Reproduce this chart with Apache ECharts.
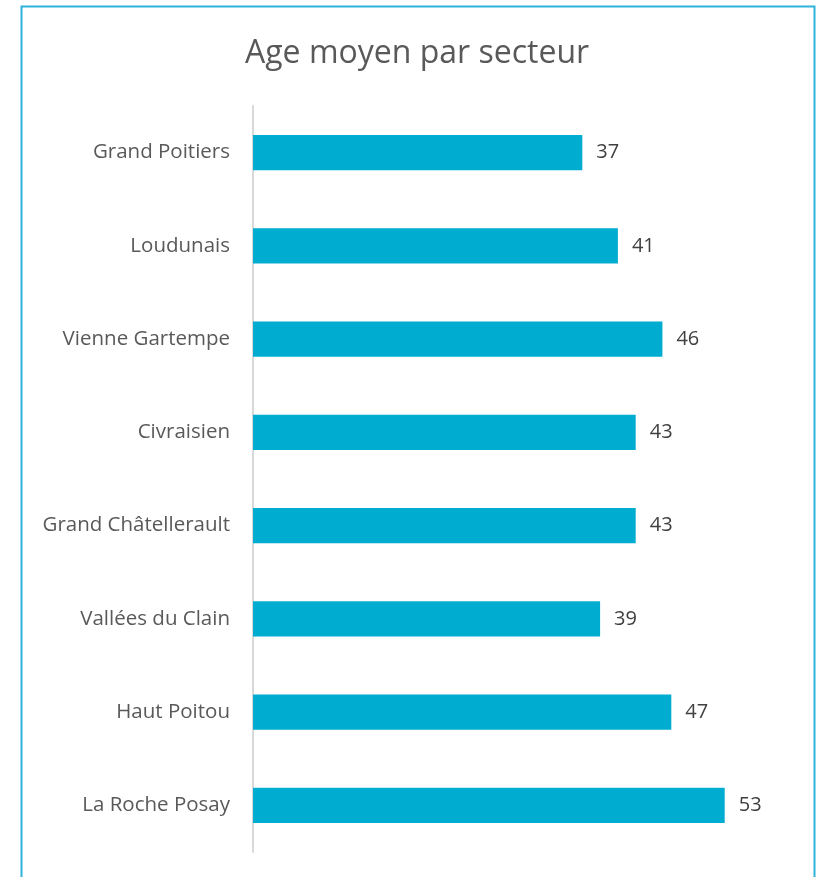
<!DOCTYPE html>
<html>
<head>
<meta charset="utf-8">
<script src="https://cdn.jsdelivr.net/npm/echarts@6/dist/echarts.min.js"></script>
<style>
html,body{margin:0;padding:0;background:#fff;}
#chart{width:824px;height:877px;}
</style>
</head>
<body>
<div id="chart"></div>
<script>
const categories = ["Grand Poitiers","Loudunais","Vienne Gartempe","Civraisien","Grand Châtellerault","Vallées du Clain","Haut Poitou","La Roche Posay"];
const values = [37, 41, 46, 43, 43, 39, 47, 53];
const titleText = "Age moyen par secteur";

const chart = echarts.init(document.getElementById('chart'), null, {renderer:'canvas'});
const font = "Open Sans, Liberation Sans, sans-serif";
chart.setOption({
  animation:false,
  backgroundColor:'#fff',
  title:{
    text:titleText,
    left:240, top:33,
    textStyle:{fontFamily:font, fontSize:32, fontWeight:'normal', color:'#595959'}
  },
  graphic:[{
    type:'rect', shape:{x:21.5, y:6.5, width:793, height:900},
    style:{fill:'none', stroke:'#2FB3DA', lineWidth:2}, silent:true
  }],
  grid:{left:253, top:106, bottom:25, right:37, containLabel:false},
  xAxis:{type:'value', min:0, max:60, show:false, splitLine:{show:false}},
  yAxis:{
    type:'category', data:categories, inverse:true,
    axisLine:{show:true, lineStyle:{color:'#D9D9D9', width:2}},
    axisTick:{show:false},
    axisLabel:{fontFamily:font, fontSize:20.5, color:'#595959', margin:23}
  },
  series:[{
    type:'bar', data:values, barCategoryGap:'62%',
    itemStyle:{color:'#00ACD0'},
    label:{show:true, position:'right', distance:14, fontFamily:font, fontSize:20, color:'#404040'}
  }]
});
</script>
</body>
</html>
